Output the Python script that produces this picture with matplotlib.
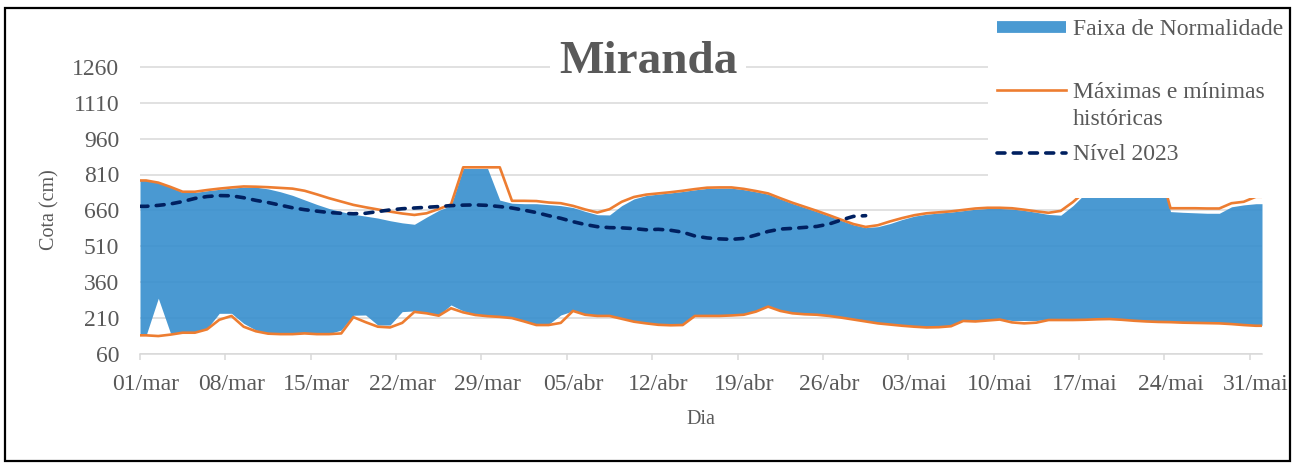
import numpy as np
import matplotlib
matplotlib.use('Agg')
import matplotlib.pyplot as plt
from matplotlib.lines import Line2D
from matplotlib.patches import Rectangle

plt.rcParams['font.family'] = ['Liberation Serif', 'DejaVu Serif']

# cotas diárias (cm), 01/mar a 31/mai
maxima = [785, 776, 758, 738, 738, 745, 751, 756, 760, 759,
          757, 754, 751, 742, 727, 711, 697, 683, 673, 664,
          655, 647, 641, 648, 666, 685, 840, 840, 840, 840,
          700, 700, 699, 693, 690, 679, 664, 651, 665, 696,
          716, 726, 731, 736, 742, 749, 755, 756, 756, 750,
          741, 731, 711, 692, 675, 658, 640, 621, 603, 591,
          598, 614, 628, 640, 648, 652, 656, 662, 668, 671,
          671, 669, 663, 656, 650, 658, 695, 740, 800, 860,
          900, 900, 880, 850, 669, 669, 669, 668, 668, 690,
          696, 717]
minima = [138, 135, 141, 149, 149, 163, 203, 219, 174, 155,
          145, 143, 143, 146, 143, 143, 146, 214, 193, 174,
          171, 190, 236, 230, 220, 251, 234, 223, 218, 215,
          210, 196, 181, 181, 190, 240, 224, 219, 219, 207,
          195, 188, 182, 180, 181, 219, 219, 219, 221, 224,
          237, 258, 240, 230, 226, 224, 219, 212, 204, 196,
          188, 183, 178, 174, 171, 172, 176, 198, 196, 200,
          204, 192, 188, 191, 202, 202, 202, 203, 205, 206,
          203, 199, 196, 194, 193, 191, 190, 189, 188, 185,
          181, 178]
faixa_sup = [785, 776, 757, 735, 735, 742, 748, 753, 757, 757,
             750, 738, 723, 704, 685, 668, 655, 644, 636, 628,
             617, 608, 602, 632, 660, 680, 835, 835, 835, 703,
             690, 688, 688, 684, 680, 672, 656, 642, 641, 680,
             708, 722, 728, 733, 739, 746, 752, 753, 753, 747,
             738, 728, 708, 689, 672, 655, 637, 618, 600, 588,
             592, 605, 622, 636, 644, 649, 653, 659, 665, 668,
             668, 666, 660, 652, 643, 640, 680, 730, 850, 850,
             850, 850, 850, 850, 655, 652, 650, 648, 648, 675,
             683, 688]
faixa_inf = [138, 293, 147, 151, 151, 166, 230, 230, 188, 160,
             148, 145, 145, 148, 145, 145, 160, 222, 223, 181,
             181, 237, 240, 232, 222, 265, 240, 226, 221, 218,
             213, 199, 184, 184, 223, 240, 226, 221, 221, 210,
             198, 191, 185, 183, 184, 221, 221, 221, 223, 226,
             239, 260, 242, 232, 228, 226, 221, 214, 206, 198,
             190, 185, 180, 176, 173, 174, 178, 200, 198, 202,
             206, 200, 200, 200, 204, 204, 204, 205, 207, 208,
             205, 201, 198, 196, 195, 193, 192, 191, 190, 187,
             183, 180]
nivel_2023 = [677, 681, 687, 697, 710, 718, 722, 721, 713, 702,
              693, 682, 671, 663, 657, 651, 648, 646, 648, 655,
              662, 667, 670, 673, 676, 680, 682, 683, 681, 676,
              670, 661, 651, 638, 627, 613, 601, 592, 588, 587,
              584, 579, 581, 577, 569, 553, 545, 541, 539, 543,
              557, 572, 582, 585, 589, 593, 603, 620, 635, 638]
tick_labels = ['01/mar', '08/mar', '15/mar', '22/mar', '29/mar', '05/abr', '12/abr',
               '19/abr', '26/abr', '03/mai', '10/mai', '17/mai', '24/mai', '31/mai']

azul = '#4a9ad2'
laranja = '#ed7d31'
marinho = '#002060'
cinza = '#595959'

W, H = 1299, 466
fig = plt.figure(figsize=(W / 100, H / 100), dpi=100)
ax = fig.add_axes([140 / W, (H - 354) / H, 1122 / W, 323.1 / H])

n = len(maxima)
dias = np.arange(n) + 0.5
xe = np.r_[0, dias, n]


def borda(v):
    # prolonga a série até as bordas do eixo, como no Excel
    return np.r_[v[0], v, v[-1]]


ax.fill_between(xe, borda(faixa_inf), borda(faixa_sup), color='#368ecd', alpha=0.9, lw=0, zorder=2)
ax.plot(xe, borda(maxima), color=laranja, lw=1.9, zorder=3)
ax.plot(xe, borda(minima), color=laranja, lw=1.9, zorder=3)
xn = np.r_[0, dias[:len(nivel_2023)]]
ax.plot(xn, np.r_[nivel_2023[0], nivel_2023], color=marinho, lw=2.6,
        ls=(0, (2.2, 2.3)), dash_capstyle='round', zorder=4)

ax.set_xlim(0, n)
ax.set_ylim(60, 1410)
ax.set_yticks(np.arange(60, 1261, 150))
ax.yaxis.grid(True, color='#d9d9d9', lw=1.1)
ax.set_axisbelow(True)

semanas = np.arange(0, n, 7)
ax.set_xticks(semanas)
ax.set_xticklabels([])
ax.set_xticks(semanas + 0.5, minor=True)
ax.set_xticklabels(tick_labels, minor=True)
ax.tick_params(axis='x', which='major', length=4, color='#d9d9d9', width=1.1)
ax.tick_params(axis='x', which='minor', length=0, pad=14.5, labelsize=17, labelcolor=cinza)
ax.tick_params(axis='y', length=0, pad=15, labelsize=17, labelcolor=cinza)
for s in ['left', 'right', 'top']:
    ax.spines[s].set_visible(False)
ax.spines['bottom'].set_color('#d9d9d9')
ax.spines['bottom'].set_linewidth(1.1)

ax.set_xlabel('Dia', fontsize=14.5, color=cinza)
ax.xaxis.set_label_coords(0.5, -0.173)
ax.set_ylabel('Cota (cm)', fontsize=14.5, color=cinza, va='center')
ax.yaxis.set_label_coords(-0.08, 0.446)

# título
fig.text(648 / W, 1 - 73 / H, 'Miranda', ha='center', va='baseline', fontsize=34,
         weight='bold', color=cinza, bbox=dict(fc='white', ec='none', pad=6))

# legenda desenhada à mão sobre o gráfico
fig.add_artist(Rectangle((988 / W, 1 - 198 / H), (1290 - 988) / W, (198 - 9) / H,
                         transform=fig.transFigure, fc='white', ec='none', zorder=5))
fy = lambda py: 1 - py / H
hx = [997 / W, 1066 / W]
fig.add_artist(Line2D(hx, [fy(27)] * 2, transform=fig.transFigure, color=azul, lw=8.5,
                      solid_capstyle='butt', zorder=6))
fig.add_artist(Line2D(hx, [fy(89.5)] * 2, transform=fig.transFigure, color=laranja, lw=1.9, zorder=6))
fig.add_artist(Line2D(hx, [fy(153)] * 2, transform=fig.transFigure, color=marinho, lw=2.6,
                      ls=(0, (2.2, 2.3)), dash_capstyle='round', zorder=6))
tx = 1073 / W
fig.text(tx, fy(35), 'Faixa de Normalidade', fontsize=17, color=cinza, va='baseline', zorder=7)
fig.text(tx, fy(98), 'Máximas e mínimas', fontsize=17, color=cinza, va='baseline', zorder=7)
fig.text(tx, fy(125), 'históricas', fontsize=17, color=cinza, va='baseline', zorder=7)
fig.text(tx, fy(160), 'Nível 2023', fontsize=17, color=cinza, va='baseline', zorder=7)

# moldura externa
fig.add_artist(Rectangle((5 / W, 1 - 461 / H), 1285 / W, 453 / H, transform=fig.transFigure,
                         fill=False, ec='black', lw=1.6, zorder=8))

fig.savefig('out.png', dpi=100)
